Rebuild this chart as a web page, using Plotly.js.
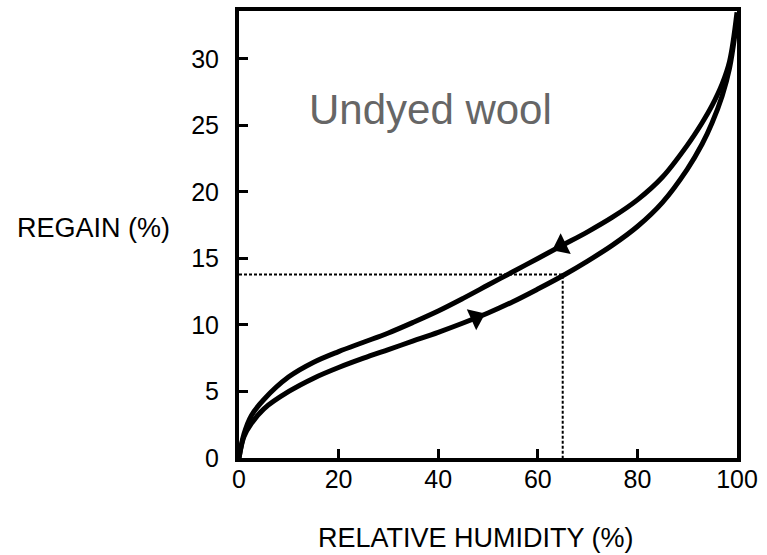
<!DOCTYPE html>
<html>
<head>
<meta charset="utf-8">
<script src="https://cdn.plot.ly/plotly-3.0.1.min.js"></script>
<style>html,body{margin:0;padding:0;background:#fff;}#chart{width:767px;height:555px;}</style>
</head>
<body>
<div id="chart"></div>
<script>
// Adsorption (lower curve)
const adsRH     = [0, 1, 2.5, 5, 10, 15, 20, 25, 30, 35, 40, 45, 50, 55, 60, 65, 70, 75, 80, 85, 90, 93, 95, 97, 98.5, 100];
const adsRegain = [0, 1.6, 2.6, 3.7, 5.0, 6.0, 6.8, 7.5, 8.15, 8.8, 9.45, 10.15, 10.9, 11.75, 12.7, 13.7, 14.8, 16.0, 17.4, 19.2, 21.7, 23.6, 25.2, 27.2, 29.3, 33.0];
// Desorption (upper curve)
const desRH     = [0, 1, 2.5, 5, 10, 15, 20, 25, 30, 35, 40, 45, 50, 55, 60, 65, 70, 75, 80, 85, 90, 93, 95, 97, 98.5, 100];
const desRegain = [0, 1.8, 3.2, 4.4, 6.1, 7.2, 8.0, 8.7, 9.4, 10.2, 11.05, 12.0, 13.0, 14.0, 15.0, 16.0, 17.0, 18.1, 19.4, 21.1, 23.5, 25.2, 26.5, 28.1, 29.8, 33.5];
// Arrow markers
const arrowAdsRH = [47.6], arrowAdsRegain = [10.55];
const arrowDesRH = [64.7], arrowDesRegain = [15.95];
// Reference dashed lines (65% RH -> 13.8% regain)
const refRH     = [0, 65, 65];
const refRegain = [13.8, 13.8, 0];
// Ticks
const xTicks = [0, 20, 40, 60, 80, 100];
const yTicks = [0, 5, 10, 15, 20, 25, 30];

const font = 'Liberation Sans, Arial, sans-serif';
const traces = [
  {x: refRH, y: refRegain, mode: 'lines', line: {color: '#000', width: 2, dash: '3px,2px'}, hoverinfo: 'skip'},
  {x: adsRH, y: adsRegain, mode: 'lines', line: {color: '#000', width: 5, shape: 'spline', smoothing: 1}},
  {x: desRH, y: desRegain, mode: 'lines', line: {color: '#000', width: 5, shape: 'spline', smoothing: 1}},
  {x: arrowAdsRH, y: arrowAdsRegain, mode: 'markers', marker: {symbol: 'triangle-right', size: 20, angle: -24, color: '#000'}},
  {x: arrowDesRH, y: arrowDesRegain, mode: 'markers', marker: {symbol: 'triangle-left', size: 20, angle: -26, color: '#000'}}
];

const layout = {
  width: 767, height: 555,
  margin: {l: 239, r: 30, t: 11, b: 97},
  paper_bgcolor: '#fff', plot_bgcolor: '#fff',
  showlegend: false,
  font: {family: font, color: '#000', size: 25},
  xaxis: {
    range: [0, 100], tickvals: xTicks, ticktext: xTicks.map(String),
    ticks: 'inside', ticklen: 9, tickwidth: 3, tickcolor: '#000',
    showline: true, linewidth: 4, linecolor: '#000', mirror: true,
    showgrid: false, zeroline: false, ticklabelstandoff: -4,
    tickfont: {family: font, size: 25, color: '#000'}
  },
  yaxis: {
    range: [0, 33.6], tickvals: yTicks, ticktext: yTicks.map(String),
    ticks: 'inside', ticklen: 9, tickwidth: 3, tickcolor: '#000',
    showline: true, linewidth: 4, linecolor: '#000', mirror: true,
    showgrid: false, zeroline: false, ticklabelstandoff: 11,
    tickfont: {family: font, size: 25, color: '#000'}
  },
  annotations: [
    {text: 'Undyed wool', xref: 'x', yref: 'y', x: 38.4, y: 26.2, showarrow: false,
     font: {family: font, size: 42, color: '#666'}},
    {text: 'REGAIN (%)', xref: 'paper', yref: 'paper', x: -0.45, y: 0.515, xanchor: 'left', yanchor: 'middle', showarrow: false,
     font: {family: font, size: 27, color: '#000'}},
    {text: 'RELATIVE HUMIDITY (%)', xref: 'paper', yref: 'paper', x: 0.476, y: -0.179, xanchor: 'center', yanchor: 'middle', showarrow: false,
     font: {family: font, size: 27, color: '#000'}}
  ]
};

Plotly.newPlot('chart', traces, layout, {displayModeBar: false, staticPlot: true});
</script>
</body>
</html>
